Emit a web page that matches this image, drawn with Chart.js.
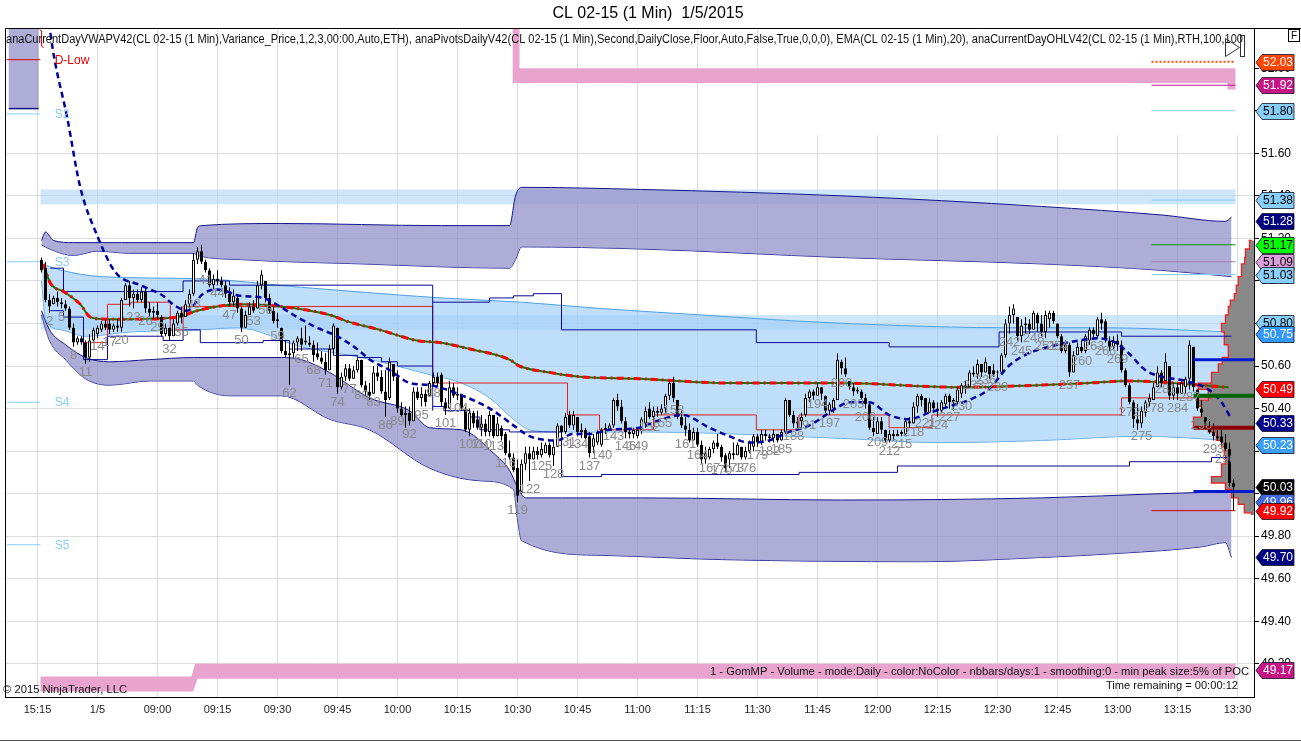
<!DOCTYPE html>
<html>
<head>
<meta charset="utf-8">
<title>CL 02-15 (1 Min) 1/5/2015</title>
<script src="https://cdn.jsdelivr.net/npm/chart.js@4.4.1/dist/chart.umd.min.js"></script>
<style>
  html, body { margin: 0; padding: 0; background: #fff; }
  canvas { display: block; }
</style>
</head>
<body>
<canvas id="chart" width="1301" height="742"></canvas>
<script>
// ---------------- Candles (cents above 50.00), one per 1-min bar, bars 0..298 ----------------
const opens = [
  110,106,91,89,92,90,89,87,78,71,  73,71,64,72,75,77,80,80,77,79,
  78,91,98,92,94,91,95,87,85,86,    83,75,78,74,80,85,83,89,94,110,
  114,109,105,98,101,100,98,94,90,92, 87,78,84,88,87,98,100,92,86,81,
  78,67,65,66,71,73,72,71,70,66,    64,62,58,68,78,50,55,59,54,58,
  63,51,48,47,57,55,48,45,61,55,    40,37,38,34,48,45,47,46,52,55,
  56,43,40,50,46,47,40,30,38,35,    31,33,29,37,27,31,28,19,17,12,
  1,14,19,16,20,18,19,23,18,22,     32,29,37,32,36,29,30,27,22,24,
  23,30,30,32,44,41,34,29,28,27,    30,33,40,36,39,38,40,46,52,44,
  36,32,30,25,29,23,16,17,21,24,    22,18,16,19,18,22,17,20,22,27,
  24,28,27,26,28,25,29,44,37,33,    34,37,45,48,46,50,46,39,40,44,
  62,59,53,50,48,48,45,42,31,28,    34,30,25,28,27,28,28,34,33,41,
  46,45,38,43,40,39,42,46,43,43,    47,51,50,57,56,61,57,60,58,57,
  57,65,80,84,83,74,79,80,77,84,    80,76,82,85,80,74,67,70,57,65,
  69,67,72,77,74,82,81,72,69,72,    70,58,51,43,35,33,38,43,44,50,
  57,53,60,46,50,47,50,54,69,49,    40,36,31,29,27,27,24,21,5
];
const highs = [
  111,109,94,93,95,92,91,88,80,74,  74,72,75,78,79,81,82,82,80,82,
  92,99,100,96,96,97,97,90,88,90,   84,80,78,82,86,88,91,96,113,116,
  117,110,106,103,105,102,100,97,96,93, 88,86,90,91,100,105,100,94,88,85,
  78,72,69,72,74,78,79,74,72,71,    67,66,70,80,78,57,61,61,60,64,
  63,53,52,60,60,58,58,64,61,58,    43,41,41,50,50,50,49,53,57,57,
  57,45,53,52,50,47,41,40,39,39,    37,35,39,37,36,32,29,25,19,16,
  16,22,22,22,22,24,24,24,25,33,    32,38,39,39,36,33,31,29,28,30,
  31,33,33,45,47,44,36,31,31,31,    36,41,43,41,41,42,47,53,55,44,
  39,36,33,31,31,25,22,22,25,28,    23,19,20,24,24,22,22,25,28,28,
  30,30,28,30,28,30,45,44,39,36,    38,47,49,49,52,50,46,43,45,66,
  63,64,53,52,50,49,47,43,36,36,    36,30,30,30,30,30,35,36,43,47,
  47,45,45,44,43,44,47,47,45,50,    52,53,58,60,63,61,64,60,61,58,
  66,82,88,89,83,82,83,82,86,85,    84,86,86,86,80,75,72,71,67,71,
  72,75,78,78,83,85,82,74,74,75,    72,59,52,44,42,41,44,47,52,60,
  58,66,60,52,52,53,55,72,69,49,    44,36,35,33,30,30,28,24,7
];
const lows = [
  104,90,85,89,88,87,86,77,69,70,   70,61,62,71,73,76,77,75,76,76,
  76,91,88,87,90,90,85,83,82,82,    74,74,72,74,79,80,83,87,93,108,
  108,104,97,96,98,97,92,88,88,85,  76,78,84,85,87,96,90,85,80,78,
  66,64,51,64,67,67,70,69,62,63,    61,56,58,66,47,49,53,53,54,57,
  50,46,44,47,53,47,36,44,53,38,    36,31,32,34,44,41,41,46,51,50,
  41,37,40,45,44,39,29,27,31,30,    27,27,27,26,27,25,18,16,10,-4,
  0,11,6,16,16,17,19,17,13,22,      26,28,31,30,27,26,25,17,19,23,
  22,28,30,31,39,33,26,26,26,26,    28,31,35,35,36,37,38,44,43,35,
  31,27,24,25,22,14,14,16,19,21,    15,10,12,16,18,16,16,19,20,22,
  23,25,24,24,24,25,28,36,31,30,    31,36,43,44,46,44,38,37,38,44,
  56,55,49,46,47,44,40,30,27,28,    28,24,24,25,27,27,27,31,33,38,
  41,37,38,39,36,38,40,40,39,42,    45,47,50,55,54,55,57,54,55,54,
  56,64,75,80,72,71,75,75,77,76,    74,73,78,80,73,66,66,55,57,65,
  66,66,70,73,73,77,71,67,68,67,    57,50,42,31,30,31,36,41,44,50,
  50,53,44,44,44,47,47,49,48,39,    36,30,28,25,25,23,20,3,-8
];
const closes = [
  105,91,88,92,90,89,87,78,71,73,   71,64,72,77,78,80,78,77,79,78,
  91,98,92,94,91,95,87,85,86,84,    75,78,74,80,85,83,89,94,110,114,
  109,105,98,101,100,98,94,90,93,87, 78,84,88,86,98,103,92,86,81,82,
  67,65,66,71,73,70,71,70,65,64,    62,58,68,79,50,55,59,54,58,63,
  51,48,46,57,55,48,44,62,55,40,    37,38,34,48,45,47,43,52,55,52,
  43,40,50,46,47,40,30,38,33,31,    33,29,37,27,33,27,19,17,11,-1,
  14,19,16,20,18,21,23,18,22,32,    29,36,32,37,29,30,26,19,26,29,
  30,31,32,44,41,34,29,28,30,30,    35,39,36,39,38,40,46,52,45,36,
  32,30,25,29,23,16,19,21,24,22,    17,12,19,18,23,17,20,24,27,24,
  28,27,26,28,25,29,44,37,33,34,    36,45,48,46,50,47,39,42,44,63,
  59,56,50,48,49,45,42,31,29,34,    30,25,28,27,28,29,34,33,41,46,
  44,38,43,40,39,43,46,43,44,49,    51,50,57,56,61,57,62,56,56,57,
  65,80,84,87,74,79,80,77,85,80,    76,84,85,81,74,67,70,57,65,69,
  67,74,77,75,82,80,72,69,72,70,    58,51,43,35,33,39,43,45,50,57,
  52,62,46,50,47,52,54,70,50,40,    38,31,29,27,26,24,21,5,3
];

// ---------------- Axis labels ----------------
const tickBars = [-1,14,29,44,59,74,89,104,119,134,149,164,179,194,209,224,239,254,269,284,299];
const timeLabels = ['15:15','1/5','09:00','09:15','09:30','09:45','10:00','10:15','10:30','10:45',
  '11:00','11:15','11:30','11:45','12:00','12:15','12:30','12:45','13:00','13:15','13:30'];
const priceTicks = [49.2,49.4,49.6,49.8,50.0,50.2,50.4,50.6,50.8,51.0,51.2,51.4,51.6,51.8,52.0];

// ---------------- Indicators (bar position, price) ----------------
// EMA(20)
const emaBars = [1.0,2.2,6.5,9.7,14.0,18.5,24.7,30.4,32.9,36.4,40.4,43.9,49.7,55.4,59.6,63.9,68.9,73.9,78.9,82.1,
  87.1,92.1,97.1,105.3,112.1,118.8,122.0,128.8,132.8,137.0,142.0,149.5,153.7,160.2,167.0,172.0,176.9,181.9,186.9,191.9,
  199.4,201.9,206.9,211.9,216.9,221.9,226.9,231.8,236.8,241.8,246.8,251.8,259.3,264.3,268.5,271.8,276.0,280.0,286.0,291.7,
  295.0,297.5];
const emaVals = [52.40,52.17,51.76,51.44,51.21,51.04,50.98,50.93,50.89,50.86,50.94,50.96,50.93,50.92,50.88,50.83,50.78,50.74,50.68,50.63,
  50.58,50.52,50.51,50.46,50.40,50.31,50.27,50.25,50.28,50.28,50.30,50.31,50.34,50.37,50.31,50.27,50.24,50.25,50.29,50.32,
  50.41,50.43,50.43,50.37,50.35,50.38,50.41,50.44,50.49,50.60,50.66,50.69,50.72,50.73,50.71,50.66,50.58,50.55,50.53,50.49,
  50.43,50.35];
// current day VWAP
const vwapBars = [0.5,2.2,5.5,9.7,12.2,16.5,22.2,33.9,38.9,43.9,49.7,59.6,72.1,76.4,84.6,93.8,99.6,107.1,117.0,119.5,
  127.0,134.5,149.5,172.0,199.4,230.1,249.3,261.8,271.8,296.7];
const vwapVals = [51.08,50.99,50.95,50.89,50.83,50.82,50.82,50.83,50.86,50.88,50.89,50.88,50.84,50.81,50.77,50.72,50.71,50.68,50.63,50.60,
  50.57,50.55,50.54,50.52,50.52,50.50,50.51,50.52,50.53,50.50];
// VWAP variance bands: upper outer
const ubTopBars = [0,1,3,8,20,38,39,40,60,100,117,118.5,120,150,200,250,280,296,297.5];
const ubTopVals = [51.19,51.23,51.19,51.18,51.18,51.18,51.25,51.26,51.27,51.26,51.26,51.40,51.44,51.43,51.40,51.35,51.31,51.28,51.30];
const ubBotBars = [0,2,8,14,22,38,39,50,80,117,118.5,120,150,200,250,280,297.5];
const ubBotVals = [51.17,51.15,51.12,51.14,51.13,51.13,51.12,51.10,51.08,51.06,51.10,51.16,51.15,51.11,51.08,51.05,51.02];
// lower outer
const lbTopBars = [0,2,6,11,17,27,38,47,60,65,72,82,92,97,105,113,117,119,121,130,150,200,250,280,297.5];
const lbTopVals = [50.86,50.77,50.70,50.64,50.62,50.63,50.64,50.64,50.64,50.63,50.57,50.45,50.39,50.31,50.30,50.19,50.11,50.03,49.98,49.98,49.98,49.97,49.98,50.00,50.01];
const lbBotBars = [0,2,6,11,17,27,38,39,47,60,72,82,97,110,118,119,120,140,170,220,250,270,290,296,297.5];
const lbBotVals = [50.84,50.72,50.63,50.54,50.51,50.53,50.53,50.51,50.46,50.46,50.35,50.30,50.12,50.06,50.02,49.88,49.78,49.71,49.69,49.68,49.70,49.72,49.75,49.77,49.70];
// inner band
const ibTopBars = [0,5,15,40,65,100,120,140,165,190,215,240,265,297.5];
const ibTopVals = [51.08,51.05,51.02,51.01,50.97,50.92,50.90,50.87,50.84,50.81,50.79,50.78,50.78,50.76];
const ibBotBars = [0,1,5,11,22,39,49,65,80,97,105,112,118,122,129,150,200,225,250,275,297.5];
const ibBotVals = [51.00,50.82,50.77,50.74,50.76,50.77,50.78,50.69,50.64,50.56,50.52,50.45,50.35,50.30,50.29,50.29,50.26,50.24,50.25,50.27,50.25];

// OHLV range steps (navy) and opening range steps (red)
const navyUpABars = [2.2,5.5,35.4,47,97.8,97.8];
const navyUpAVals = [51.06,50.95,51.00,50.98,50.98,50.39];
const navyLoABars = [2.2,5.5,10.5,16.5,30.4,35.4,39.7,55.4,62,73,79,85,89,97.8];
const navyLoAVals = [50.86,50.83,50.63,50.74,50.72,50.77,50.71,50.72,50.68,50.65,50.64,50.62,50.60,50.60];
const navyUpBBars = [97.8,112,118,123,130,178.7,211.9,239.4,270,297.5];
const navyUpBVals = [50.90,50.92,50.93,50.94,50.77,50.71,50.69,50.76,50.74,50.74];
const navyLoBBars = [97.8,100.6,107.1,109.6,117,130,140,189.4,214,272,292.5,297.5];
const navyLoBVals = [50.41,50.39,50.36,50.30,50.29,50.08,50.09,50.10,50.13,50.15,50.17,50.17];
const redStepBars = [10.5,16.5,22.3,32.2,35.4,97.8,97.8,131.5,139.5,153,178.7,189.4,211.9,222.6,270,292.5];
const redStepVals = [50.71,50.89,50.90,50.77,50.88,50.88,50.52,50.37,50.30,50.37,50.30,50.37,50.31,50.37,50.45,50.45];

// daily pivots
const pivotZones = [[51.43, 51.36], [50.84, 50.77]];
const rightPivots = [52.03, 51.92, 51.80, 51.38, 51.17, 51.09, 51.03, 49.92];
const leftPivots = [52.04, 51.785, 51.09, 50.43, 49.76];
const leftPivotNames = ['D-Low', 'S2', 'S3', 'S4', 'S5'];
const prevBoxBars = [-8.2, -0.7, -0.7, -8.2];
const prevBoxVals = [52.30, 52.30, 51.81, 51.81];
const pinkTopBars = [117.8,119.5,119.5,298.5,298.5,296.5,296.5,117.8];
const pinkTopVals = [52.30,52.30,52.00,52.00,51.90,51.90,51.93,51.93];
const pinkBotBars = [-0.25,37.5,38.4,298.5,298.5,39,37.9,-0.25];
const pinkBotVals = [49.14,49.14,49.20,49.20,49.13,49.13,49.07,49.07];

// GomMP volume profile (left edge, top to bottom) and its levels
const profPrices = [51.19,51.15,51.11,51.08,51.02,50.98,50.94,50.91,50.88,50.84,50.80,50.76,50.70,50.64,50.61,50.57,50.52,50.49,50.44,50.41,
  50.36,50.31,50.29,50.25,50.22,50.18,50.14,50.08,50.05,50.02,49.98,49.95,49.91,49.90];
const profBars = [302.5,302.0,301.0,300.8,300.0,299.2,298.7,298.2,297.2,296.7,296.0,295.0,295.7,296.7,295.2,294.2,292.5,289.2,291.7,289.2,
  290.0,288.0,291.7,293.7,295.0,295.7,296.0,295.0,292.5,296.0,297.5,299.2,300.7,302.5];
const profileLevels = [50.63, 50.46, 50.31, 50.01];

// price markers on the axis
const tagPrices = [52.03,51.92,51.80,51.38,51.28,51.17,51.09,51.03,50.80,50.75,50.49,50.33,50.23,50.03,49.96,49.92,49.70,49.17];

// ---------------- Styles ----------------
const tagColors = ['#ff4500','#c71585','#87cefa','#87cefa','#000080','#00ff00','#dda0dd','#87cefa','#87cefa','#3399ff',
  '#ff0000','#00008b','#3aa0f5','#000000','#4169e1','#ff0000','#000080','#c71585'];
const tagTextColors = ['#fff','#fff','#000','#000','#fff','#000','#000','#000','#000','#fff',
  '#fff','#fff','#fff','#fff','#fff','#fff','#fff','#fff'];
const rightPivotStyles = [
  { borderColor: '#ff4500', borderWidth: 2, borderDash: [2, 2] },
  { borderColor: '#c71585' }, { borderColor: '#87cefa' }, { borderColor: '#87cefa' },
  { borderColor: '#00a000' }, { borderColor: '#a080b0' }, { borderColor: '#87cefa' }, { borderColor: '#d00000' }
];
const leftPivotColors = ['#e00000', '#87cefa', '#87cefa', '#87cefa', '#87cefa'];
const profileLevelStyles = [
  { borderColor: '#0018d0', borderWidth: 3 }, { borderColor: '#006400', borderWidth: 4 },
  { borderColor: '#8b0000', borderWidth: 4 }, { borderColor: '#0018d0', borderWidth: 3 }
];

const xMin = -9.125, xMax = 303.125;
const yMin = 49.044, yMax = 52.189;
const FONT = '"Liberation Sans", Arial, sans-serif';
Chart.defaults.font.family = FONT;

// ---------------- Helpers ----------------
const price = c => 50 + c / 100;
const pts = (xs, ys) => xs.map((x, i) => ({ x, y: ys[i] }));
function line(data, opts) {
  return Object.assign({ type: 'line', data, pointRadius: 0, borderWidth: 1, fill: false,
    tension: 0, clip: 0, borderColor: '#000' }, opts);
}
function shape(data, color, order, extra) {
  return line(data, Object.assign({ fill: 'shape', backgroundColor: color, borderColor: 'rgba(0,0,0,0)', order }, extra || {}));
}
const smooth = { tension: 0.35, cubicInterpolationMode: 'monotone' };
const BAND = 'rgba(150,150,205,0.78)';
const NAVY = '#14148c';

// ---------------- Datasets ----------------
const datasets = [];
pivotZones.forEach(([hi, lo]) => datasets.push(
  shape(pts([-0.25, 298.5, 298.5, -0.25], [hi, hi, lo, lo]), 'rgba(175,215,245,0.62)', 100)));
datasets.push(shape(pts(prevBoxBars, prevBoxVals), BAND, 95));
datasets.push(line(pts([-8.2, -0.7], [51.81, 51.81]), { borderColor: NAVY, borderWidth: 1.5, order: 94 }));

datasets.push(line(pts(ubTopBars, ubTopVals), Object.assign({ fill: '+1', backgroundColor: BAND, borderColor: NAVY, order: 90 }, smooth)));
datasets.push(line(pts(ubBotBars, ubBotVals), Object.assign({ borderColor: NAVY, order: 90 }, smooth)));
datasets.push(line(pts(lbTopBars, lbTopVals), Object.assign({ fill: '+1', backgroundColor: BAND, borderColor: NAVY, order: 90 }, smooth)));
datasets.push(line(pts(lbBotBars, lbBotVals), Object.assign({ borderColor: NAVY, order: 90 }, smooth)));
datasets.push(line(pts(ibTopBars, ibTopVals), Object.assign({ fill: '+1', backgroundColor: 'rgba(160,207,248,0.68)', borderColor: '#4f9fe4', order: 88 }, smooth)));
datasets.push(line(pts(ibBotBars, ibBotVals), Object.assign({ borderColor: '#4f9fe4', order: 88 }, smooth)));

datasets.push(shape(pts(pinkTopBars, pinkTopVals), '#e8a3cf', 80));
datasets.push(shape(pts(pinkBotBars, pinkBotVals), '#e8a3cf', 80));

const profShape = pts(profBars, profPrices).concat([{ x: xMax, y: profPrices[profPrices.length - 1] }, { x: xMax, y: profPrices[0] }]);
datasets.push(shape(profShape, '#888888', 75, { stepped: true }));
datasets.push(line(pts(profBars, profPrices), { borderColor: '#f02020', borderWidth: 1.3, stepped: true, order: 74 }));

[[navyUpABars, navyUpAVals], [navyLoABars, navyLoAVals], [navyUpBBars, navyUpBVals], [navyLoBBars, navyLoBVals]]
  .forEach(([b, v]) => datasets.push(line(pts(b, v), { borderColor: '#0a0a96', stepped: true, order: 60 })));
datasets.push(line(pts(redStepBars, redStepVals), { borderColor: '#e02020', stepped: true, order: 60 }));

rightPivots.forEach((p, i) => datasets.push(line(pts([277.5, 298.5], [p, p]), Object.assign({ order: 58 }, rightPivotStyles[i]))));
leftPivots.forEach((p, i) => datasets.push(line(pts([-8.7, -0.3], [p, p]), { borderColor: leftPivotColors[i], order: 58 })));

datasets.push(line(pts(vwapBars, vwapVals), Object.assign({ borderColor: '#008000', borderWidth: 2, order: 52 }, smooth)));
datasets.push(line(pts(vwapBars, vwapVals), Object.assign({ borderColor: '#ff0000', borderWidth: 3, borderDash: [7, 4, 2, 4], order: 51 }, smooth)));

const barIdx = opens.map((_, i) => i);
datasets.push({
  type: 'bar', order: 40, grouped: false, barThickness: 1, inflateAmount: 0,
  data: barIdx.map(i => ({ x: i, y: [price(lows[i]), price(highs[i])] })),
  backgroundColor: '#000'
});
datasets.push({
  type: 'bar', order: 39, grouped: false, barThickness: 3, inflateAmount: 0, minBarLength: 1,
  data: barIdx.map(i => ({ x: i, y: [price(Math.min(opens[i], closes[i])), price(Math.max(opens[i], closes[i]))] })),
  backgroundColor: barIdx.map(i => closes[i] >= opens[i] ? '#ffffff' : '#000000'),
  borderColor: '#000', borderWidth: 1, borderSkipped: false
});

datasets.push(line(pts(emaBars, emaVals), Object.assign({ borderColor: '#00009c', borderWidth: 2.5, borderDash: [6, 4], order: 30 }, smooth)));
profileLevels.forEach((p, i) => datasets.push(line(pts([288, xMax], [p, p]), Object.assign({ order: 20 }, profileLevelStyles[i]))));

// ---------------- Decorations: texts, frame, price markers ----------------
function fitText(ctx, text, x, y, width, align) {
  const w = ctx.measureText(text).width;
  ctx.save();
  ctx.translate(align === 'right' ? x - width : x, y);
  ctx.scale(width / w, 1);
  ctx.textAlign = 'left';
  ctx.fillText(text, 0, 0);
  ctx.restore();
}

const decor = {
  id: 'decor',
  beforeDatasetsDraw(chart) {
    const { ctx, chartArea: ca, scales: { x, y } } = chart;
    // the top-right corner of the NinjaTrader panel has no grid
    ctx.save();
    ctx.fillStyle = '#fff';
    const x0 = x.getPixelForValue(187), y1 = y.getPixelForValue(51.685);
    ctx.fillRect(x0, ca.top, ca.right - x0, y1 - ca.top);
    ctx.restore();
  },
  afterDatasetsDraw(chart) {
    const { ctx, scales: { x, y } } = chart;
    ctx.save();
    ctx.font = '13px ' + FONT;
    ctx.fillStyle = '#8a8a8a';
    ctx.textAlign = 'center';
    ctx.textBaseline = 'top';
    for (let i = 2; i < lows.length; i += 3) {
      ctx.fillText(String(i), x.getPixelForValue(i), y.getPixelForValue(price(lows[i])) + 2);
    }
    // left pivot names
    ctx.textAlign = 'left';
    ctx.textBaseline = 'middle';
    ctx.font = '12px ' + FONT;
    leftPivots.forEach((p, i) => {
      ctx.fillStyle = i === 0 ? '#e00000' : '#87cefa';
      ctx.fillText(leftPivotNames[i], x.getPixelForValue(3.3), y.getPixelForValue(p) + 1);
    });
    // small red bracket beside the previous-session box
    ctx.strokeStyle = '#d00000';
    ctx.lineWidth = 1;
    const bx = x.getPixelForValue(-0.1) + 0.5;
    ctx.beginPath();
    ctx.moveTo(bx - 2, 30); ctx.lineTo(bx, 31); ctx.lineTo(bx, 46); ctx.lineTo(bx + 2, 48);
    ctx.stroke();
    ctx.restore();
  },
  afterDraw(chart) {
    const { ctx, chartArea: ca, scales: { y }, width, height } = chart;
    ctx.save();
    // frame
    ctx.strokeStyle = '#000';
    ctx.lineWidth = 1;
    ctx.beginPath();
    ctx.moveTo(ca.left + 0.5, ca.bottom); ctx.lineTo(ca.left + 0.5, ca.top + 0.5);
    ctx.lineTo(width, ca.top + 0.5);
    ctx.moveTo(ca.right + 0.5, ca.top); ctx.lineTo(ca.right + 0.5, ca.bottom + 0.5);
    ctx.lineTo(ca.left, ca.bottom + 0.5);
    ctx.stroke();
    ctx.fillStyle = '#555';
    ctx.fillRect(0, height - 2, width, 1);

    // title
    ctx.fillStyle = '#000';
    ctx.textBaseline = 'middle';
    ctx.textAlign = 'center';
    ctx.font = '16px ' + FONT;
    ctx.fillText('CL 02-15 (1 Min)  1/5/2015', 648, 14);

    // indicator line
    ctx.font = '12px ' + FONT;
    ctx.fillStyle = '#111';
    fitText(ctx, 'anaCurrentDayVWAPV42(CL 02-15 (1 Min),Variance_Price,1,2,3,00:00,Auto,ETH), anaPivotsDailyV42(CL 02-15 (1 Min),Second,DailyClose,Floor,Auto,False,True,0,0,0), EMA(CL 02-15 (1 Min),20), anaCurrentDayOHLV42(CL 02-15 (1 Min),RTH,100,100,', ca.left + 1, 40, 1240, 'left');

    // play icon and F box
    ctx.strokeStyle = '#333';
    ctx.beginPath();
    ctx.moveTo(1225.5, 38.5); ctx.lineTo(1239.5, 47.5); ctx.lineTo(1225.5, 56.5); ctx.closePath();
    ctx.stroke();
    ctx.strokeRect(1240.5, 35.5, 4, 21);
    ctx.fillStyle = '#fff';
    ctx.fillRect(1288.5, 29.5, 11, 12);
    ctx.strokeStyle = '#000';
    ctx.strokeRect(1288.5, 29.5, 11, 12);
    ctx.fillStyle = '#000';
    ctx.font = '10px ' + FONT;
    ctx.fillText('F', 1294, 36);

    // bottom texts
    ctx.font = '11px ' + FONT;
    ctx.fillStyle = '#111';
    fitText(ctx, '1 - GomMP - Volume - mode:Daily - color:NoColor - nbbars/days:1 - smoothing:0 - min peak size:5% of POC', 1249, 672, 539, 'right');
    fitText(ctx, 'Time remaining = 00:00:12', 1238, 686, 132, 'right');
    fitText(ctx, '\u00a9 2015 NinjaTrader, LLC', 3, 690, 124, 'left');

    // price markers
    ctx.font = '12px ' + FONT;
    ctx.textAlign = 'center';
    const l = ca.right + 2, tip = 6, w = 32, h = 16;
    tagPrices.forEach((p, i) => {
      const yy = Math.round(y.getPixelForValue(p)) + 0.5;
      ctx.beginPath();
      ctx.moveTo(l, yy);
      ctx.lineTo(l + tip, yy - h / 2);
      ctx.lineTo(l + tip + w, yy - h / 2);
      ctx.lineTo(l + tip + w, yy + h / 2);
      ctx.lineTo(l + tip, yy + h / 2);
      ctx.closePath();
      ctx.fillStyle = tagColors[i];
      ctx.fill();
      ctx.strokeStyle = 'rgba(20,20,40,0.8)';
      ctx.stroke();
      ctx.fillStyle = tagTextColors[i];
      ctx.fillText(p.toFixed(2), l + tip + w / 2, yy + 0.5);
    });
    ctx.restore();
  }
};

new Chart(document.getElementById('chart'), {
  type: 'bar',
  data: { datasets },
  options: {
    responsive: false,
    animation: false,
    devicePixelRatio: 1,
    events: [],
    layout: { padding: { left: 5, top: 28, right: 0, bottom: 0 } },
    plugins: { legend: { display: false }, tooltip: { enabled: false }, title: { display: false } },
    scales: {
      x: {
        type: 'linear', min: xMin, max: xMax, offset: false,
        afterBuildTicks: s => { s.ticks = tickBars.map(v => ({ value: v })); },
        afterFit: s => { s.height = 45; },
        ticks: { autoSkip: false, maxRotation: 0, padding: 6, color: '#222', font: { size: 11 },
          callback: (v, i) => timeLabels[i] },
        grid: { color: '#dcdcdc', drawTicks: false, offset: false },
        border: { color: '#000' }
      },
      y: {
        position: 'right', min: yMin, max: yMax, beginAtZero: false,
        afterBuildTicks: s => { s.ticks = priceTicks.map(v => ({ value: v })); },
        afterFit: s => { s.width = 47; },
        ticks: { padding: 2, color: '#000', font: { size: 12 }, callback: v => v.toFixed(2) },
        grid: { color: c => (c.tick && c.tick.value > 51.7) ? 'rgba(0,0,0,0)' : '#dcdcdc', tickColor: '#000', tickLength: 5 },
        border: { color: '#000' }
      }
    }
  },
  plugins: [decor]
});
</script>
</body>
</html>
